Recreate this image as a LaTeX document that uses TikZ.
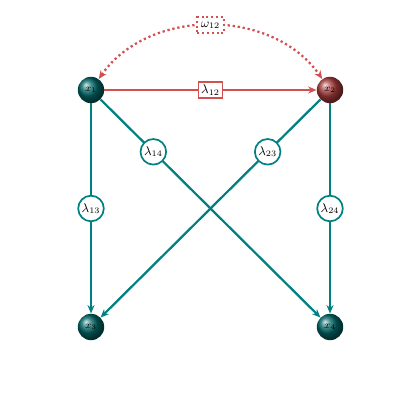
\documentclass[tikz,border=0pt]{standalone}
\usetikzlibrary{arrows.meta}
\definecolor{pathteal}{RGB}{0,128,128}
\definecolor{pathred}{RGB}{210,80,80}
\definecolor{ballred}{RGB}{170,60,60}
\begin{document}
\begin{tikzpicture}[
    var/.style={circle,minimum size=0.66cm,inner sep=0pt,font=\scriptsize,text=black},
    tealvar/.style={var,ball color=pathteal!80!black},
    redvar/.style={var,ball color=ballred},
    tip/.style={-{Stealth[length=6pt,width=5pt]}},
    path/.style={line width=1.6pt,draw=pathteal,tip},
    coef/.style={circle,draw=pathteal,fill=white,line width=1.2pt,inner sep=1pt,minimum size=0.64cm,font=\small,text=black},
    cov/.style={draw=pathred,fill=white,line width=1.2pt,inner sep=2pt,font=\small,text=black},
    covdot/.style={rectangle,fill=white,inner sep=2.5pt,minimum height=0.4cm,font=\small,text=black,
      draw=pathred,line width=1.4pt,dotted}
  ]
  \useasboundingbox (0,0) rectangle (10.5,10.5);
  \node[tealvar] (x1) at (2.275,8.25) {$x_1$};
  \node[redvar] (x2) at (8.25,8.25) {$x_2$};
  \node[tealvar] (x3) at (2.275,2.325) {$x_3$};
  \node[tealvar] (x4) at (8.25,2.325) {$x_4$};
  % paths
  \draw[path] (x1) -- node[coef,pos=0.5] {$\lambda_{13}$} (x3);
  \draw[path] (x2) -- node[coef,pos=0.5] {$\lambda_{24}$} (x4);
  \draw[path] (x1) -- node[coef,pos=0.24] {$\lambda_{14}$} (x4);
  \draw[path] (x2) -- node[coef,pos=0.24] {$\lambda_{23}$} (x3);
  \draw[path,draw=pathred] (x1) -- node[cov] {$\lambda_{12}$} (x2);
  % covariance
  \draw[draw=pathred,line width=1.6pt,dotted,{Stealth[length=6pt,width=5pt]}-{Stealth[length=6pt,width=5pt]}]
    (x1) to[bend left=55] coordinate[pos=0.5] (top) (x2);
  \node[covdot] (w12) at (top) {$\omega_{12}$};
\end{tikzpicture}
\end{document}
